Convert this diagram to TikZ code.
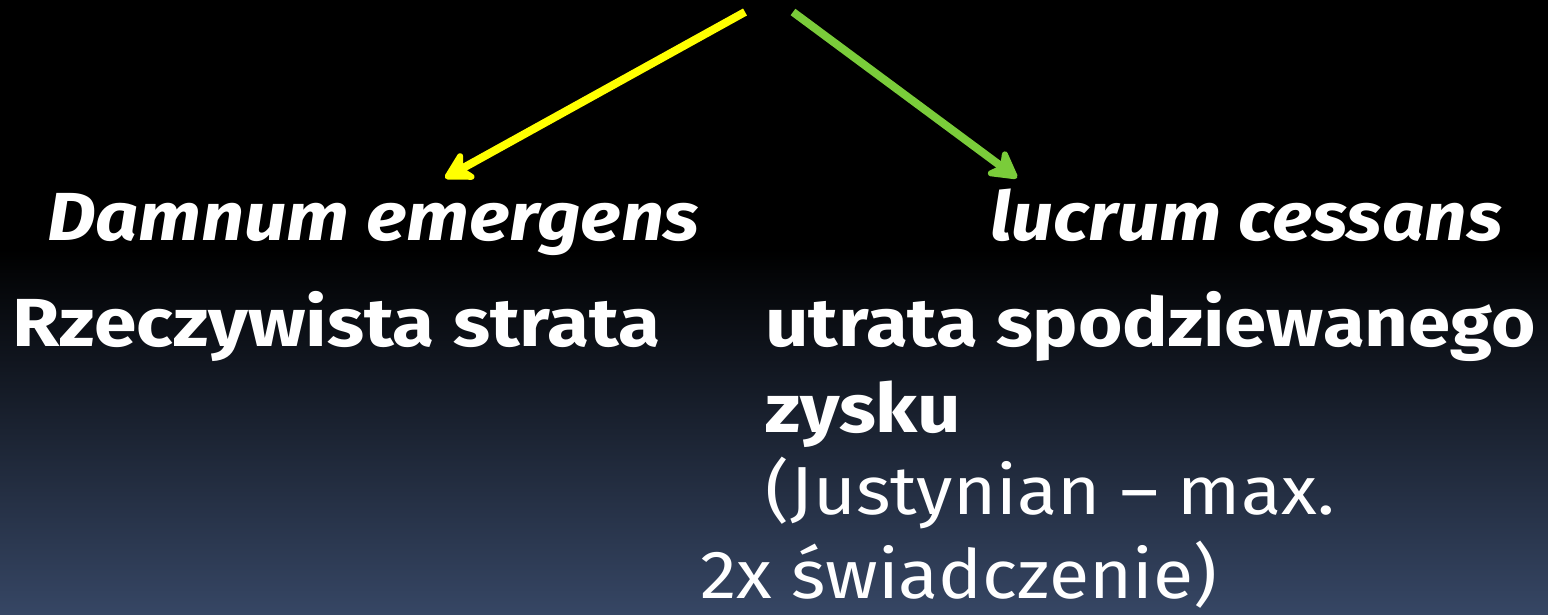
\documentclass[tikz,border=0pt]{standalone}
\usepackage{fontspec}
\setmainfont{Fira Sans}
\usetikzlibrary{arrows.meta}
\definecolor{bgbot}{RGB}{54,70,100}
\definecolor{arrowyellow}{RGB}{255,255,0}
\definecolor{arrowgreen}{RGB}{122,204,58}
\newcommand{\sx}[2]{\scalebox{#1}[1]{#2}}
\tikzset{
  txt/.style={anchor=base west, inner sep=0pt, text=white, font=\fontsize{68}{72}\selectfont},
  bitxt/.style={txt, font=\fontsize{68}{72}\selectfont\bfseries\itshape},
  btxt/.style={txt, font=\fontsize{68}{72}\selectfont\bfseries},
  conn/.style={line width=8pt, -{Stealth[length=34pt,width=38pt,inset=10pt,round]}},
}
\begin{document}
\begin{tikzpicture}[x=1pt,y=-1pt]
\useasboundingbox (0,0) rectangle (1548,614);
\fill[black] (0,0) rectangle (1548,250);
\shade[top color=black, bottom color=bgbot] (0,249) rectangle (1548,614);
\coordinate (ys) at (745,12);
\coordinate (gs) at (793,12);
\coordinate (ye) at (445,178);
\coordinate (ge) at (1017,178);
\node[bitxt] (dam) at (47,240) {\sx{1.11}{Damnum emergens}};
\node[bitxt] (luc) at (990,240) {\sx{1.097}{lucrum cessans}};
\node[btxt] (rz) at (12,346) {\sx{1.128}{Rzeczywista strata}};
\node[btxt] (ut) at (765,346) {\sx{1.12}{utrata spodziewanego}};
\node[btxt] (zy) at (765,432) {\sx{1.12}{zysku}};
\node[txt] (ju) at (765,514) {\sx{1.085}{(Justynian – max.}};
\node[txt] (sw) at (700,598) {\sx{1.08}{2x świadczenie)}};
\draw[conn, arrowyellow] (ys) -- (ye);
\draw[conn, arrowgreen] (gs) -- (ge);
\end{tikzpicture}
\end{document}
